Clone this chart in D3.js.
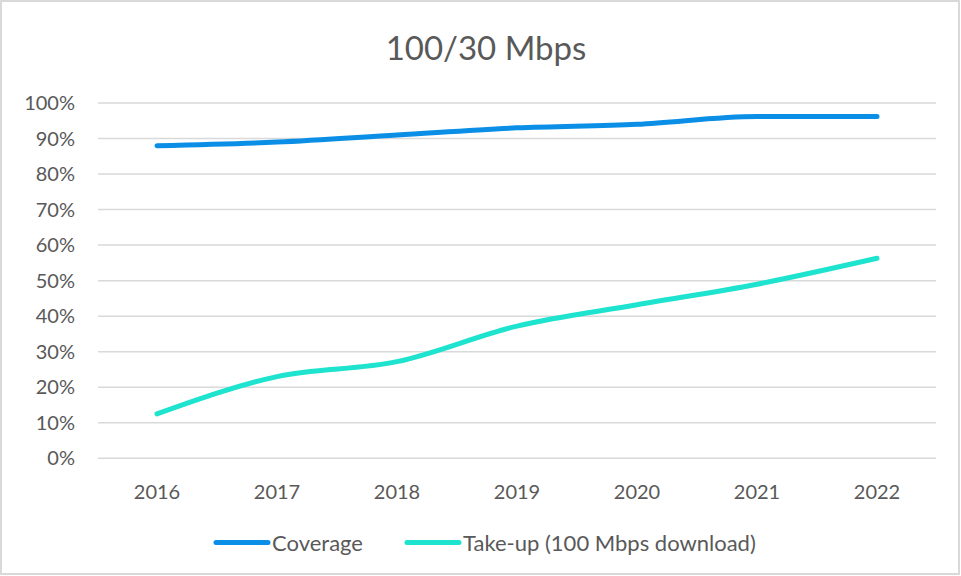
<!DOCTYPE html>
<html>
<head>
<meta charset="utf-8">
<script src="https://cdn.jsdelivr.net/npm/d3@7"></script>
<style>
  body { margin: 0; background: #fff; }
  svg { display: block; font-family: Lato, "Noto Sans", sans-serif; }
</style>
</head>
<body>
<svg width="961" height="576"></svg>
<script>
/* ===============================
   Data
   =============================== */
let years = ["2016", "2017", "2018", "2019", "2020", "2021", "2022"];
let coverage = [0.88, 0.89, 0.91, 0.93, 0.94, 0.962, 0.962];
let takeUp = [0.125, 0.23, 0.272, 0.372, 0.432, 0.49, 0.563];
let yTicks = [0, 0.1, 0.2, 0.3, 0.4, 0.5, 0.6, 0.7, 0.8, 0.9, 1.0];
let seriesNames = ["Coverage", "Take-up (100 Mbps download)"];
let seriesColors = ["#0b8fe6", "#1ee3cf"];

let svg = d3.select("svg");

/* ===============================
   Frame
   =============================== */
svg.append("rect")
    .attr("x", 1).attr("y", 1)
    .attr("width", 958).attr("height", 573)
    .attr("fill", "#fff")
    .attr("stroke", "#d9d9d9")
    .attr("stroke-width", 2);

/* ===============================
   Scales
   =============================== */
let plotLeft = 98, plotRight = 936;
let x = d3.scalePoint().domain(years).range([157, 877]);
let y = d3.scaleLinear().domain([0, 1]).range([458.3, 103]);

/* ===============================
   Gridlines + y labels
   =============================== */
svg.append("g")
    .selectAll("line")
    .data(yTicks)
    .join("line")
    .attr("x1", plotLeft)
    .attr("x2", plotRight)
    .attr("y1", d => y(d))
    .attr("y2", d => y(d))
    .attr("stroke", "#d9d9d9")
    .attr("stroke-width", 1.5);

svg.append("g")
    .selectAll("text")
    .data(yTicks)
    .join("text")
    .attr("x", 75)
    .attr("y", d => y(d))
    .attr("dy", "0.35em")
    .attr("text-anchor", "end")
    .attr("font-size", 20)
    .attr("fill", "#595959")
    .text(d => d3.format(".0%")(d));

/* ===============================
   x labels
   =============================== */
svg.append("g")
    .selectAll("text")
    .data(years)
    .join("text")
    .attr("x", d => x(d))
    .attr("y", 499)
    .attr("text-anchor", "middle")
    .attr("font-size", 20)
    .attr("fill", "#595959")
    .text(d => d);

/* ===============================
   Lines (smoothed)
   =============================== */
let line = d3.line()
    .x((d, i) => x(years[i]))
    .y(d => y(d))
    .curve(d3.curveMonotoneX);

[coverage, takeUp].forEach((vals, i) => {
  svg.append("path")
      .datum(vals)
      .attr("d", line)
      .attr("fill", "none")
      .attr("stroke", seriesColors[i])
      .attr("stroke-width", 5)
      .attr("stroke-linecap", "round")
      .attr("stroke-linejoin", "round");
});

/* ===============================
   Title
   =============================== */
svg.append("text")
    .attr("x", 486)
    .attr("y", 60)
    .attr("text-anchor", "middle")
    .attr("font-size", 33)
    .attr("fill", "#595959")
    .text("100/30 Mbps");

/* ===============================
   Legend
   =============================== */
let legendX = [214, 405];
seriesNames.forEach((name, i) => {
  svg.append("line")
      .attr("x1", legendX[i] + 2)
      .attr("x2", legendX[i] + 54)
      .attr("y1", 542.5)
      .attr("y2", 542.5)
      .attr("stroke", seriesColors[i])
      .attr("stroke-width", 5)
      .attr("stroke-linecap", "round");
  svg.append("text")
      .attr("x", legendX[i] + 58)
      .attr("y", 543)
      .attr("dy", "0.35em")
      .attr("font-size", 22)
      .attr("fill", "#595959")
      .text(name);
});
</script>
</body>
</html>
